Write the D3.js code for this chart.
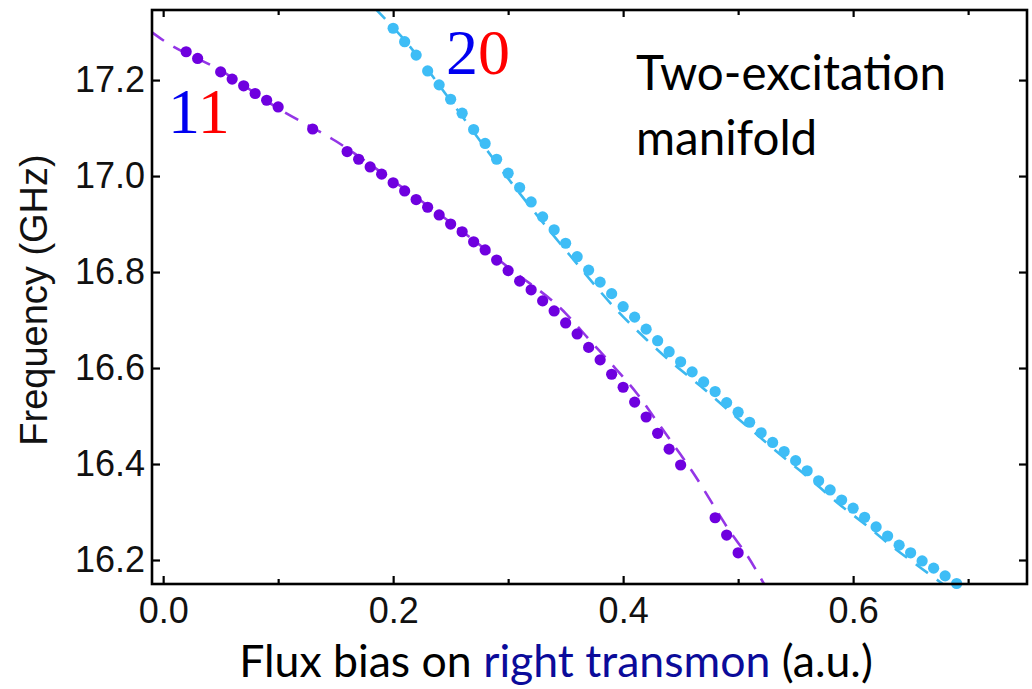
<!DOCTYPE html>
<html>
<head>
<meta charset="utf-8">
<script src="https://cdn.jsdelivr.net/npm/d3@7"></script>
<style>
  html, body { margin: 0; padding: 0; background: #fff; }
  svg { display: block; }
</style>
</head>
<body>
<svg id="chart" width="1032" height="689"></svg>
<script>
// Measured points of the |11> branch (flux bias, frequency in GHz)
const flux11 = [0.02, 0.03, 0.05, 0.06, 0.07, 0.08, 0.09, 0.10, 0.13, 0.16, 0.17, 0.18, 0.19, 0.20,
  0.21, 0.22, 0.23, 0.24, 0.25, 0.26, 0.27, 0.28, 0.29, 0.30, 0.31, 0.32, 0.33, 0.34, 0.35, 0.36,
  0.37, 0.38, 0.39, 0.40, 0.41, 0.42, 0.43, 0.44, 0.45, 0.48, 0.49, 0.50];
const freq11 = [17.259, 17.245, 17.217, 17.202, 17.188, 17.172, 17.158, 17.144, 17.098, 17.051, 17.035,
  17.019, 17.004, 16.986, 16.969, 16.951, 16.935, 16.919, 16.900, 16.884, 16.863, 16.846, 16.825,
  16.803, 16.781, 16.763, 16.740, 16.719, 16.694, 16.671, 16.643, 16.617, 16.587, 16.560, 16.529,
  16.498, 16.464, 16.431, 16.398, 16.288, 16.252, 16.215];

// Measured points of the |20> branch
const flux20 = [0.20, 0.21, 0.22, 0.23, 0.24, 0.25, 0.26, 0.27, 0.28, 0.29, 0.30, 0.31, 0.32, 0.33,
  0.34, 0.35, 0.36, 0.37, 0.38, 0.39, 0.40, 0.41, 0.42, 0.43, 0.44, 0.45, 0.46, 0.47, 0.48, 0.49,
  0.50, 0.51, 0.52, 0.53, 0.54, 0.55, 0.56, 0.57, 0.58, 0.59, 0.60, 0.61, 0.62, 0.63, 0.64, 0.65,
  0.66, 0.67, 0.68, 0.69];
const freq20 = [17.308, 17.280, 17.252, 17.219, 17.190, 17.160, 17.131, 17.097, 17.068, 17.035,
  17.006, 16.976, 16.946, 16.915, 16.888, 16.860, 16.832, 16.804, 16.779, 16.755, 16.728, 16.706,
  16.681, 16.657, 16.634, 16.613, 16.592, 16.571, 16.551, 16.528, 16.508, 16.487, 16.465, 16.445,
  16.426, 16.407, 16.386, 16.365, 16.346, 16.325, 16.308, 16.289, 16.269, 16.250, 16.231, 16.215,
  16.198, 16.183, 16.167, 16.151];

// Model curves (dashed)
const fitFlux11 = [-0.01, 0.0, 0.05, 0.10, 0.15, 0.20, 0.25, 0.30, 0.35, 0.371, 0.393, 0.412, 0.429,
  0.446, 0.463, 0.4775, 0.493, 0.508, 0.5225];
const fitFreq11 = [17.300, 17.283, 17.220, 17.141, 17.073, 16.990, 16.903, 16.810, 16.714, 16.658,
  16.600, 16.547, 16.490, 16.433, 16.374, 16.318, 16.259, 16.209, 16.150];
const fitFlux20 = [0.184, 0.21, 0.25, 0.30, 0.354, 0.3956, 0.42, 0.444, 0.467, 0.491, 0.515, 0.539,
  0.5625, 0.586, 0.61, 0.633, 0.658, 0.678];
const fitFreq20 = [17.350, 17.283, 17.157, 16.995, 16.834, 16.718, 16.660, 16.608, 16.563, 16.513,
  16.464, 16.415, 16.369, 16.320, 16.275, 16.230, 16.185, 16.150];

const xMajorTicks = [0.0, 0.2, 0.4, 0.6];
const xMinorTicks = [0.1, 0.3, 0.5, 0.7];
const yTicks = [16.2, 16.4, 16.6, 16.8, 17.0, 17.2];

const svg = d3.select("#chart");
const L = 152, R = 1027, T = 10, B = 584;

const x = d3.scaleLinear().domain([-0.0097, 0.7512]).range([L, R]);
const y = d3.scaleLinear().domain([16.15, 17.346]).range([B, T]);

const colors = {
  dot11: "#6f00df", line11: "#9436e6",
  dot20: "#3ebdf6", line20: "#3cb8ef"
};

svg.append("defs").append("clipPath").attr("id", "plotClip")
  .append("rect").attr("x", L).attr("y", T).attr("width", R - L).attr("height", B - T);

const plot = svg.append("g");

const line = d3.line().x(d => x(d[0])).y(d => y(d[1])).curve(d3.curveMonotoneX);

function drawFit(fx, fy, color) {
  plot.append("path")
    .attr("clip-path", "url(#plotClip)")
    .attr("d", line(d3.zip(fx, fy)))
    .attr("fill", "none")
    .attr("stroke", color)
    .attr("stroke-width", 2.6)
    .attr("stroke-dasharray", "15,11");
}
function drawDots(fx, fy, color) {
  plot.append("g").selectAll("circle")
    .data(d3.zip(fx, fy))
    .join("circle")
    .attr("cx", d => x(d[0]))
    .attr("cy", d => y(d[1]))
    .attr("r", 5.6)
    .attr("fill", color);
}

drawFit(fitFlux11, fitFreq11, colors.line11);
drawFit(fitFlux20, fitFreq20, colors.line20);
drawDots(flux11, freq11, colors.dot11);
drawDots(flux20, freq20, colors.dot20);

// Axes: ticks point into the plot
const tickFont = "'Liberation Sans', Arial, sans-serif";

svg.append("g").attr("transform", `translate(0,${B})`)
  .call(d3.axisBottom(x).tickValues(xMajorTicks).tickSize(-8).tickPadding(13)
    .tickFormat(d3.format(".1f")));
svg.append("g").attr("transform", `translate(0,${B})`)
  .call(d3.axisBottom(x).tickValues(xMinorTicks).tickSize(-5).tickFormat(""));
svg.append("g").attr("transform", `translate(0,${T})`)
  .call(d3.axisTop(x).tickValues(xMajorTicks).tickSize(-7).tickFormat(""));
svg.append("g").attr("transform", `translate(0,${T})`)
  .call(d3.axisTop(x).tickValues(xMinorTicks).tickSize(-5).tickFormat(""));
svg.append("g").attr("transform", `translate(${L},0)`)
  .call(d3.axisLeft(y).tickValues(yTicks).tickSize(-8).tickPadding(7)
    .tickFormat(d3.format(".1f")));
svg.append("g").attr("transform", `translate(${R},0)`)
  .call(d3.axisRight(y).tickValues(yTicks).tickSize(-8).tickFormat(""));

svg.selectAll(".domain").remove();
svg.selectAll(".tick line").attr("stroke", "#000").attr("stroke-width", 2.2);
svg.selectAll(".tick text")
  .attr("fill", "#111")
  .style("font-family", tickFont)
  .style("font-size", "36px");

// Frame
svg.append("rect")
  .attr("x", L).attr("y", T).attr("width", R - L).attr("height", B - T)
  .attr("fill", "none").attr("stroke", "#000").attr("stroke-width", 2.6);

// Axis titles
svg.append("text")
  .attr("transform", `translate(47,${(T + B) / 2 + 3}) rotate(-90)`)
  .attr("text-anchor", "middle")
  .style("font-family", tickFont)
  .style("font-size", "38px")
  .attr("fill", "#111")
  .text("Frequency (GHz)");

const xTitle = svg.append("text")
  .attr("x", 556).attr("y", 677)
  .attr("text-anchor", "middle")
  .style("font-family", "Lato, 'Open Sans', sans-serif")
  .style("font-size", "44.6px")
  .attr("fill", "#000");
xTitle.append("tspan").text("Flux bias on ");
xTitle.append("tspan").attr("fill", "#0b0b9a").text("right transmon");
xTitle.append("tspan").text(" (a.u.)");

// Manifold annotation
const note = svg.append("text")
  .style("font-family", "Lato, 'Open Sans', sans-serif")
  .style("font-size", "47.5px")
  .attr("fill", "#000");
note.append("tspan").attr("x", 636).attr("y", 90).text("Two-excitation");
note.append("tspan").attr("x", 636).attr("y", 155).text("manifold");

// State labels
function stateLabel(px, py, a, b) {
  const t = svg.append("text")
    .attr("x", px).attr("y", py)
    .style("font-family", "'Liberation Serif', 'Times New Roman', serif")
    .style("font-size", "64px");
  t.append("tspan").attr("fill", "#0000f0").text(a);
  t.append("tspan").attr("fill", "#ff0000").text(b);
}
stateLabel(168, 133, "1", "1");
stateLabel(446, 74, "2", "0");
</script>
</body>
</html>
